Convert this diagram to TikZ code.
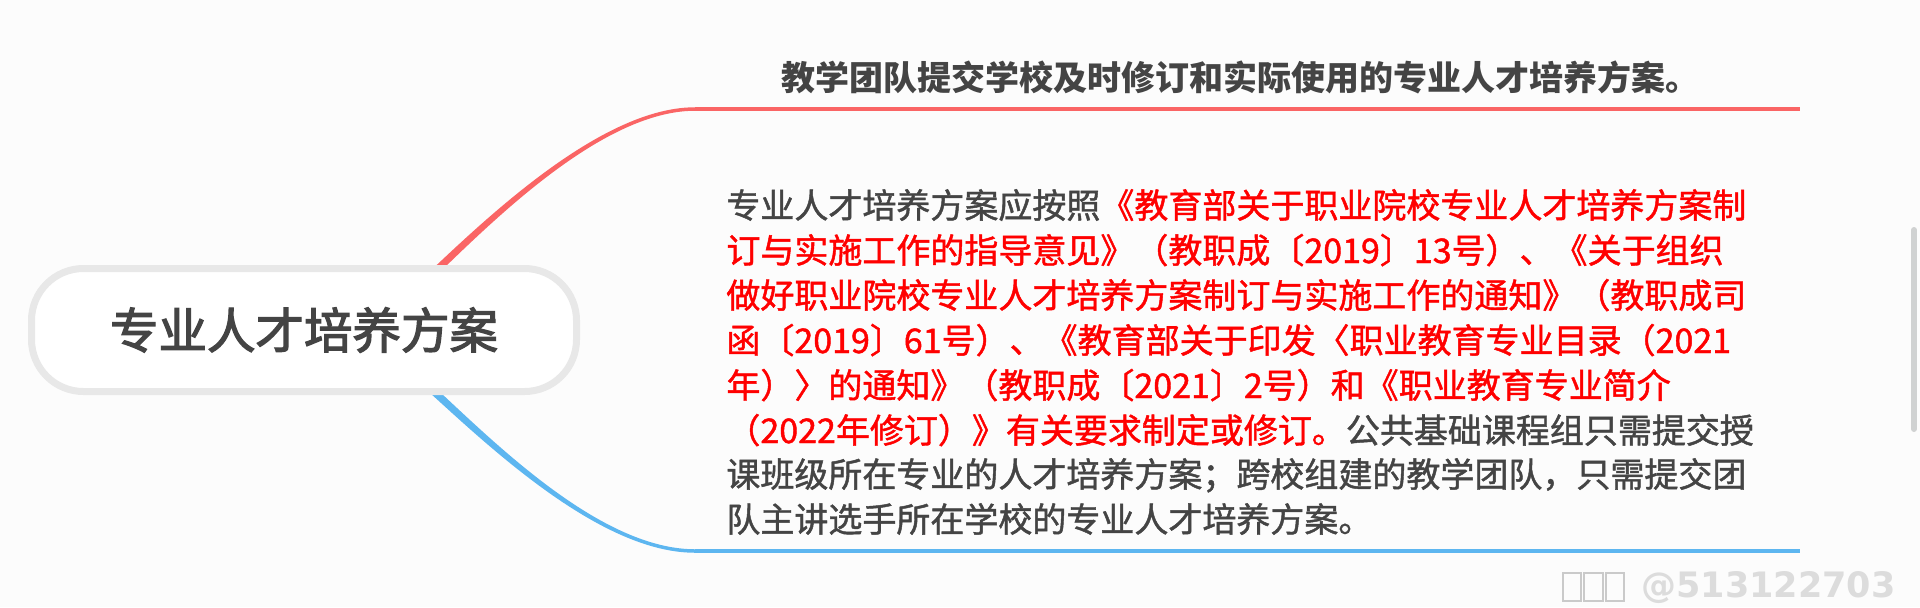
\documentclass[tikz,border=0pt]{standalone}
\usepackage{fontspec}
\newfontfamily\cjk{Noto Sans CJK SC}
\newfontfamily\cjkmed{Noto Sans CJK SC}[FakeBold=1.3]
\newfontfamily\cjknode{Noto Sans CJK SC}[FakeBold=2.6]
\newfontfamily\wmfont{DejaVu Sans}
\definecolor{bgc}{HTML}{FCFCFC}
\definecolor{pillborder}{HTML}{E8E8E8}
\definecolor{txtgray}{HTML}{444444}
\definecolor{redtxt}{HTML}{FF0000}
\definecolor{redc}{HTML}{FA6565}
\definecolor{bluec}{HTML}{5DB6F0}
\definecolor{scrollc}{HTML}{D0D2D2}
\definecolor{wmc}{HTML}{DCDCDC}
\definecolor{tofuc}{HTML}{CACACA}
\tikzset{
  pill/.style={draw=pillborder, fill=white, line width=3.5pt, rounded corners=26pt,
    minimum width=272.5pt, minimum height=61.5pt, inner sep=0pt,
    text=txtgray, font={\cjknode\fontsize{24.25}{29}\selectfont}},
  bodyline/.style={anchor=base west, inner sep=0pt, text=txtgray,
    font={\cjkmed\fontsize{17}{22}\selectfont}},
  headtext/.style={anchor=base west, inner sep=0pt, text=txtgray,
    font={\cjk\bfseries\fontsize{17}{22}\selectfont}},
  branchline/.style={line width=1.75pt},
  wmtext/.style={anchor=base west, inner sep=0pt, text=wmc,
    font={\wmfont\bfseries\fontsize{17.5}{20}\selectfont}},
  tofu/.style={draw=tofuc, line width=1pt},
}
\begin{document}
\begin{tikzpicture}[x=0.5pt,y=-0.5pt]
\fill[bgc] (0,0) rectangle (1920,607);
\useasboundingbox (0,0) rectangle (1920,607);

% branch coordinates
\coordinate (rs) at (405,300);
\coordinate (rc1) at (460,250);
\coordinate (rc2) at (590,109);
\coordinate (re) at (695,109);
\coordinate (rend) at (1800,109);
\coordinate (bs) at (410,370);
\coordinate (bc1) at (468,420);
\coordinate (bc2) at (590,551);
\coordinate (be) at (695,551);
\coordinate (bend) at (1800,551);

% tapered red branch
\fill[redc] ([shift={(-2.6,-2.8)}]rs) .. controls ([shift={(-2.6,-2.8)}]rc1) and ([shift={(0,-1.75)}]rc2) .. ([shift={(0,-1.75)}]re)
  -- ([shift={(0,1.75)}]re) .. controls ([shift={(0,1.75)}]rc2) and ([shift={(2.6,2.8)}]rc1) .. ([shift={(2.6,2.8)}]rs) -- cycle;
\draw[redc, branchline] (re) -- (rend);

% tapered blue branch
\fill[bluec] ([shift={(2.6,-2.8)}]bs) .. controls ([shift={(2.6,-2.8)}]bc1) and ([shift={(0,-1.75)}]bc2) .. ([shift={(0,-1.75)}]be)
  -- ([shift={(0,1.75)}]be) .. controls ([shift={(0,1.75)}]bc2) and ([shift={(-2.6,2.8)}]bc1) .. ([shift={(-2.6,2.8)}]bs) -- cycle;
\draw[bluec, branchline] (be) -- (bend);

% root node
\node[pill] (root) at (304,330) {专业人才培养方案};

% top child
\node[headtext] (head) at (781,90) {教学团队提交学校及时修订和实际使用的专业人才培养方案。};

% bottom child text
\node[bodyline] (l1) at (726,218) {专业人才培养方案应按照\textcolor{redtxt}{《教育部关于职业院校专业人才培养方案制}};
\node[bodyline, text=redtxt] (l2) at (726,263) {订与实施工作的指导意见》（教职成〔2019〕13号）、《关于组织};
\node[bodyline, text=redtxt] (l3) at (726,308) {做好职业院校专业人才培养方案制订与实施工作的通知》（教职成司};
\node[bodyline, text=redtxt] (l4) at (726,353) {函〔2019〕61号）、《教育部关于印发〈职业教育专业目录（2021};
\node[bodyline, text=redtxt] (l5) at (726,398) {年）〉的通知》（教职成〔2021〕2号）和《职业教育专业简介};
\node[bodyline] (l6) at (726,443) {\textcolor{redtxt}{（2022年修订）》有关要求制定或修订。}公共基础课程组只需提交授};
\node[bodyline] (l7) at (726,487) {课班级所在专业的人才培养方案；跨校组建的教学团队，只需提交团};
\node[bodyline] (l8) at (726,532) {队主讲选手所在学校的专业人才培养方案。};

% scrollbar
\draw[scrollc, line width=3pt, line cap=round] (1914,230) -- (1914,429);

% watermark
\draw[tofu] (1562.5,573) rectangle (1581,601);
\draw[tofu] (1584,573) rectangle (1602.5,601);
\draw[tofu] (1605.5,573) rectangle (1624,601);
\node[wmtext] (wm) at (1641,597) {@513122703};
\end{tikzpicture}
\end{document}
